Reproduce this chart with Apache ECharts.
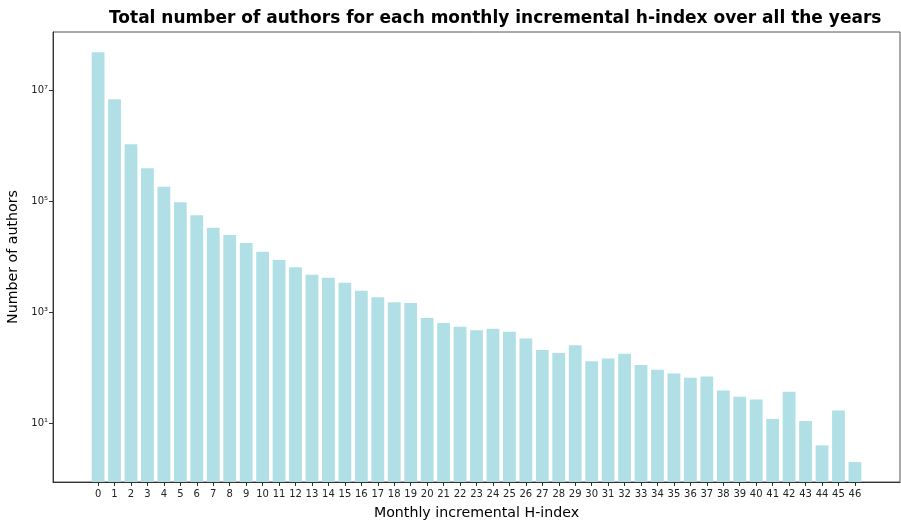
<!DOCTYPE html>
<html>
<head>
<meta charset="utf-8">
<script src="https://cdn.jsdelivr.net/npm/echarts@6/dist/echarts.min.js"></script>
<style>html,body{margin:0;padding:0;background:#fff}#c{width:901px;height:524px}</style>
</head>
<body>
<div id="c"></div>
<script>
const categories = [0,1,2,3,4,5,6,7,8,9,10,11,12,13,14,15,16,17,18,19,20,21,22,23,24,25,26,27,28,29,30,31,32,33,34,35,36,37,38,39,40,41,42,43,44,45,46];
const authorCounts = [49300000,7000000,1080000,398000,185000,97000,56500,33700,24900,17900,12500,8800,6500,4800,4240,3440,2470,1870,1520,1480,794,645,554,476,509,449,340,210,185,255,131,147,179,113,92,79,66,70,39,30,27,12,37,11,4,17,2];
const yTickValues = [10,1000,100000,10000000];
const yTickLabels = ['10¹','10³','10⁵','10⁷'];

const yMin = Math.pow(10,-0.059);
const yMax = Math.pow(10,8.059);

const chart = echarts.init(document.getElementById('c'), null, {renderer:'canvas'});
const font = 'DejaVu Sans';
chart.setOption({
  animation:false,
  backgroundColor:'#fff',
  title:{
    text:'Total number of authors for each monthly incremental h-index over all the years',
    left:104, top:5,
    textStyle:{fontFamily:font,fontWeight:'bold',fontSize:17,color:'#000'}
  },
  grid:{left:53,right:1,top:32,bottom:42,containLabel:false,outerBoundsMode:'none',show:true,borderColor:'#555',borderWidth:1,backgroundColor:'transparent'},
  xAxis:{
    type:'value', min:-2.74, max:48.74,
    name:'Monthly incremental H-index', nameLocation:'middle', nameGap:24,
    nameTextStyle:{fontFamily:font,fontSize:14.2,color:'#000'},
    splitLine:{show:false},
    axisLine:{show:true,onZero:false,lineStyle:{color:'#333',width:1}},
    axisTick:{show:true,length:4,lineStyle:{color:'#333'},customValues:categories},
    axisLabel:{fontFamily:font,fontSize:10,color:'#222',margin:7,customValues:categories}
  },
  yAxis:{
    type:'log', logBase:10, min:yMin, max:yMax, startValue:yMin,
    name:'Number of authors', nameLocation:'middle', nameGap:32, nameRotate:90,
    nameTextStyle:{fontFamily:font,fontSize:14.2,color:'#000'},
    splitLine:{show:false}, minorTick:{show:false},
    axisLine:{show:true,onZero:false,lineStyle:{color:'#333',width:1}},
    axisTick:{show:true,length:4,lineStyle:{color:'#333'},customValues:yTickValues},
    axisLabel:{fontFamily:font,fontSize:10,color:'#222',margin:5,customValues:yTickValues,
      formatter:function(v){const i=yTickValues.findIndex(t=>Math.abs(Math.log10(t)-Math.log10(v))<1e-6);return i>=0?yTickLabels[i]:'';}}
  },
  series:[{
    type:'bar',
    data:categories.map((c,i)=>[c,authorCounts[i]]),
    barWidth:12.8,
    itemStyle:{color:'#b0e0e6'}
  }]
});
</script>
</body>
</html>
